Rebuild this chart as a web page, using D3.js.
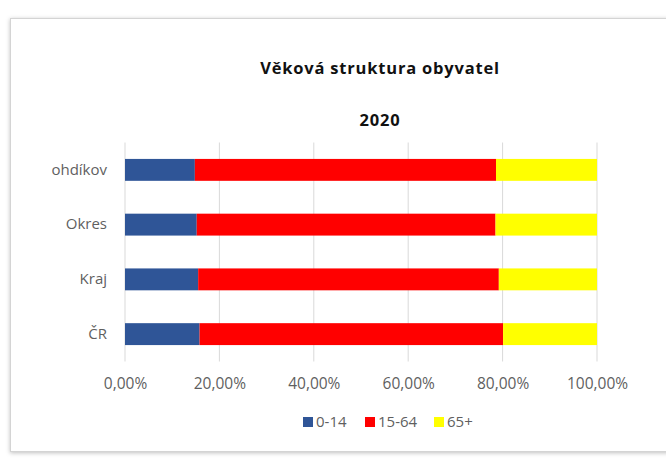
<!DOCTYPE html>
<html>
<head>
<meta charset="utf-8">
<script src="https://cdn.jsdelivr.net/npm/d3@7"></script>
<style>
  body { margin: 0; background: #fff; }
  #chart { width: 666px; height: 462px; }
</style>
</head>
<body>
<div id="chart"></div>
<script>
const categories = ["ohdíkov", "Okres", "Kraj", "ČR"];
const series_names = ["0-14", "15-64", "65+"];
const age_0_14 = [14.8, 15.2, 15.5, 15.8];
const age_15_64 = [63.8, 63.3, 63.7, 64.3];
const age_65_plus = [21.4, 21.5, 20.8, 19.9];
const tick_values = [0, 20, 40, 60, 80, 100];
const colors = ["#2f5597", "#ff0000", "#ffff00"];

const width = 666, height = 462;
const plot_left = 125, plot_right = 597, plot_top = 142.5, plot_bottom = 361.5;

const rows = categories.map((c, i) => ({
    cat: c,
    "0-14": age_0_14[i],
    "15-64": age_15_64[i],
    "65+": age_65_plus[i]
}));

const svg = d3.select("#chart").append("svg")
    .attr("width", width)
    .attr("height", height);

// frame with soft shadow
const defs = svg.append("defs");
const f = defs.append("filter").attr("id", "sh").attr("x", "-5%").attr("y", "-5%").attr("width", "110%").attr("height", "110%");
f.append("feDropShadow").attr("dx", 0).attr("dy", 1).attr("stdDeviation", 2).attr("flood-color", "#000").attr("flood-opacity", 0.25);

svg.append("rect")
    .attr("x", 10.5).attr("y", 18.5)
    .attr("width", 700).attr("height", 433)
    .attr("fill", "#fff")
    .attr("stroke", "#d4d4d4")
    .attr("filter", "url(#sh)");

const x = d3.scaleLinear().domain([0, 100]).range([plot_left, plot_right]);
const y = d3.scaleBand().domain(categories).range([plot_top, plot_bottom]).paddingInner(0.6).paddingOuter(0.3);

// gridlines
svg.append("g")
    .selectAll("line")
    .data(tick_values)
    .join("line")
    .attr("x1", d => x(d)).attr("x2", d => x(d))
    .attr("y1", plot_top).attr("y2", plot_bottom)
    .attr("stroke", "#d9d9d9")
    .attr("stroke-width", 1);

const stack = d3.stack().keys(series_names)(rows);

svg.append("g")
    .selectAll("g")
    .data(stack)
    .join("g")
    .attr("fill", (d, i) => colors[i])
    .selectAll("rect")
    .data(d => d)
    .join("rect")
    .attr("x", d => x(d[0]))
    .attr("width", d => x(d[1]) - x(d[0]))
    .attr("y", d => y(d.data.cat))
    .attr("height", y.bandwidth());

// category axis
const yAxis = svg.append("g")
    .attr("transform", `translate(${plot_left},0)`)
    .call(d3.axisLeft(y).tickSize(0).tickPadding(18));
yAxis.select(".domain").remove();
yAxis.selectAll("text")
    .attr("fill", "#5f5f5f")
    .style("font-family", "'Open Sans', sans-serif")
    .style("font-size", "15px");

// value axis
const xAxis = svg.append("g")
    .attr("transform", `translate(0,${plot_bottom})`)
    .call(d3.axisBottom(x).tickValues(tick_values).tickSize(0).tickPadding(16)
        .tickFormat(d => d.toFixed(2).replace(".", ",") + "%"));
xAxis.select(".domain").remove();
xAxis.selectAll("text")
    .attr("fill", "#5f5f5f")
    .style("font-family", "'Open Sans', sans-serif")
    .style("font-size", "15.5px");

// titles
svg.append("text")
    .attr("x", 380).attr("y", 74)
    .attr("text-anchor", "middle")
    .style("font-family", "'Open Sans', sans-serif")
    .style("font-weight", "bold")
    .style("font-size", "16.5px")
    .style("letter-spacing", "0.8px")
    .attr("fill", "#111")
    .text("Věková struktura obyvatel");

svg.append("text")
    .attr("x", 380).attr("y", 126)
    .attr("text-anchor", "middle")
    .style("font-family", "'Open Sans', sans-serif")
    .style("font-weight", "bold")
    .style("font-size", "16.5px")
    .style("letter-spacing", "0.8px")
    .attr("fill", "#111")
    .text("2020");

// legend
const legend_x = [303, 365, 434];
const legend = svg.append("g")
    .selectAll("g")
    .data(series_names)
    .join("g")
    .attr("transform", (d, i) => `translate(${legend_x[i]},422)`);
legend.append("rect")
    .attr("x", 0).attr("y", -5)
    .attr("width", 10).attr("height", 10)
    .attr("fill", (d, i) => colors[i]);
legend.append("text")
    .attr("x", 13).attr("y", 0)
    .attr("dy", "0.35em")
    .attr("fill", "#5f5f5f")
    .style("font-family", "'Open Sans', sans-serif")
    .style("font-size", "15px")
    .text(d => d);
</script>
</body>
</html>
